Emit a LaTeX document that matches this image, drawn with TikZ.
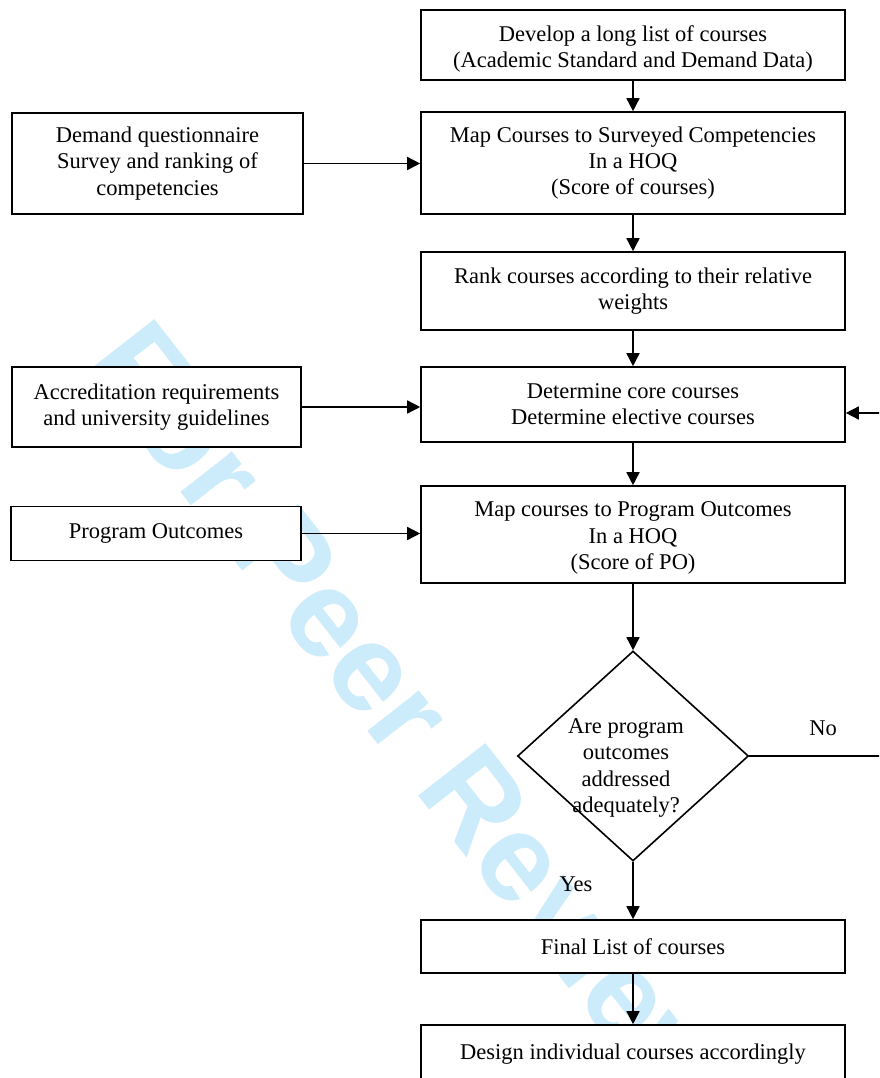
\documentclass[tikz,border=0pt]{standalone}
\usepackage{fontspec}
\setmainfont{Liberation Serif}
\newfontfamily\wmfont{Liberation Sans}
\usetikzlibrary{arrows.meta,shapes.geometric}
\definecolor{wm}{RGB}{205,236,251}
\tikzset{
  box/.style={draw=black, line width=1.6pt, fill=white, rectangle, align=center, inner sep=0pt, font=\fontsize{22.5}{26.3}\selectfont},
  rbox/.style={box, minimum width=424pt},
  txt/.style={align=center, inner sep=0pt, font=\fontsize{22.5}{26.3}\selectfont},
  arr/.style={line width=1.5pt, -{Triangle[length=13pt,width=13pt]}},
  ln/.style={line width=1.5pt}
}
\begin{document}
\begin{tikzpicture}[x=1pt,y=-1pt]
\clip (0,0) rectangle (879,1078);
\fill[white] (0,0) rectangle (879,1078);
% watermark
\node[rotate=-52, anchor=base west, inner sep=0pt, text=wm, font=\wmfont\bfseries\fontsize{124}{124}\selectfont] (wmk) at (82.5,365.6) {For Peer Review};
% right column
\node[rbox, minimum height=70pt] (b1) at (633,45) {\rule{0pt}{24pt}Develop a long list of courses\\(Academic Standard and Demand Data)};
\node[rbox, minimum height=102pt] (b2) at (633,163) {Map Courses to Surveyed Competencies\\In a HOQ\\(Score of courses)};
\node[rbox, minimum height=78pt] (b3) at (633,291) {Rank courses according to their relative\\weights};
\node[rbox, minimum height=75pt] (b4) at (633,404.5) {Determine core courses\\Determine elective courses};
\node[rbox, minimum height=97pt] (b5) at (633,534.5) {\rule{0pt}{22pt}Map courses to Program Outcomes\\In a HOQ\\(Score of PO)};
\node[draw=black, line width=1.6pt, fill=white, diamond, minimum width=231pt, minimum height=210pt, inner sep=0pt] (dm) at (633,756) {};
\node[txt] (dq) at (626,768) {Are program\\outcomes\\addressed\\adequately?};
\node[rbox, minimum height=53pt] (fin) at (633,946.5) {Final List of courses};
\node[rbox, minimum height=80pt] (des) at (633,1065) {Design individual courses accordingly\\\mbox{}};
% left column
\node[box, minimum width=291pt, minimum height=101pt] (la) at (157.5,163.5) {Demand questionnaire\\Survey and ranking of\\competencies};
\node[box, minimum width=289pt, minimum height=80pt] (lb) at (156.5,407) {Accreditation requirements\\and university guidelines};
\node[box, minimum width=290pt, minimum height=54pt] (lc) at (156,533.5) {Program Outcomes};
% labels
\node[txt] (no) at (823,728) {No};
\node[txt] (yes) at (576,884) {Yes};
% connectors
\draw[arr] (b1) -- (b2);
\draw[arr] (b2) -- (b3);
\draw[arr] (b3) -- (b4);
\draw[arr] (b4) -- (b5);
\draw[arr] (b5) -- (dm.north);
\draw[arr] (dm.south) -- (fin);
\draw[arr] (fin) -- (des);
\draw[arr] (la.east) -- (la.east -| b2.west);
\draw[arr] (lb.east) -- (lb.east -| b4.west);
\draw[arr] (lc.east) -- (lc.east -| b5.west);
\coordinate (c1) at (881,756);
\coordinate (c2) at (881,413);
\draw[ln] (dm.east) -- (c1) -- (c2);
\draw[arr] (c2) -- (c2 -| b4.east);
\end{tikzpicture}
\end{document}
